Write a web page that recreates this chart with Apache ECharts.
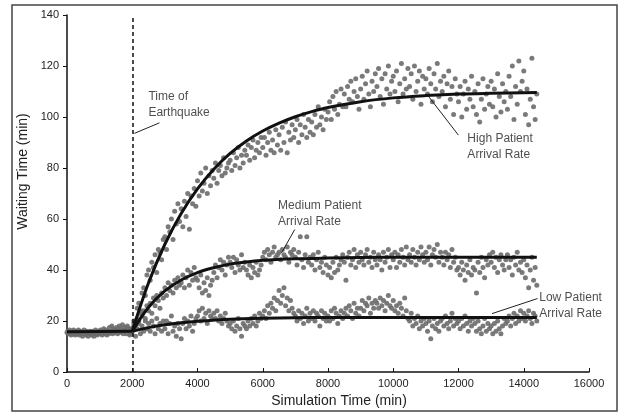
<!DOCTYPE html>
<html>
<head>
<meta charset="utf-8">
<script src="https://cdn.jsdelivr.net/npm/echarts@6/dist/echarts.min.js"></script>
<style>
  html, body { margin: 0; padding: 0; background: #fff; }
  #main { width: 625px; height: 414px; }
</style>
</head>
<body>
<div id="main"></div>
<script>
// x grid of the scatter samples (min)
const baseStart = 0, baseStep = 25;
const runStart = 2000, runStep = 50;

// waiting time before the earthquake (all three runs overlap here)
const baseline = [
  15.5, 16, 15, 16.5, 15, 14.5, 16, 15.5, 16.5, 15, 14.5, 16, 15.5, 15, 16.5, 14.5, 15.5, 16, 15, 14,
  15.5, 16.5, 15, 14.5, 16, 15.5, 14, 15, 16, 15.5, 14.5, 16, 15, 14, 15.5, 16.5, 15, 14.5, 15.5, 16,
  15, 16.5, 15.5, 14.5, 16, 17, 15, 15.5, 16.5, 14.5, 16, 15, 17.5, 15.5, 16, 18, 15, 16.5, 17, 15.5,
  16, 17.5, 15, 16.5, 18, 15.5, 17, 16, 18.5, 15, 16.5, 17.5, 16, 15, 18, 17, 16, 14.5, 17, 15
];

// after the earthquake, x = 2000, 2050, ... 14400
const high = [
  17, 20, 18, 25, 27, 24, 31, 33, 30, 38,
  40, 36, 43, 41, 46, 39, 48, 47, 44, 52,
  53, 48, 57, 55, 60, 52, 63, 58, 66, 59,
  64, 57, 67, 61, 70, 56, 69, 66, 72, 65,
  75, 69, 78, 71, 74, 80, 70, 77, 73, 79,
  76, 82, 74, 79, 81, 77, 84, 78, 80, 82,
  83, 79, 86, 81, 84, 88, 80, 85, 82, 87,
  85, 89, 83, 88, 91, 84, 87, 90, 86, 92,
  88, 92, 85, 90, 94, 87, 91, 86, 95, 89,
  93, 87, 96, 90, 98, 86, 94, 91, 97, 92,
  95, 99, 90, 97, 93, 101, 96, 92, 99, 94,
  98, 93, 101, 96, 104, 97, 100, 95, 103, 99,
  102, 106, 99, 108, 103, 110, 101, 105, 111, 104,
  109, 104, 112, 107, 114, 106, 110, 115, 108, 103,
  111, 116, 107, 113, 118, 109, 104, 114, 110, 117,
  112, 119, 108, 115, 105, 117, 111, 120, 109, 114,
  116, 110, 118, 106, 113, 121, 109, 115, 111, 119,
  112, 117, 107, 120, 110, 114, 118, 105, 116, 111,
  115, 109, 119, 113, 106, 117, 111, 121, 108, 114,
  110, 116, 104, 113, 118, 107, 112, 101, 115, 109,
  106, 112, 100, 109, 114, 103, 111, 107, 116, 104,
  110, 101, 113, 98, 107, 115, 103, 109, 112, 105,
  114, 104, 111, 100, 117, 108, 102, 113, 106, 110,
  103, 116, 108, 120, 99, 112, 105, 122, 110, 114,
  118, 101, 111, 97, 107, 123, 104, 99, 109
];

const medium = [
  17, 19, 18, 21, 20, 23, 22, 24, 21, 26,
  24, 27, 23, 29, 26, 30, 28, 25, 31, 29,
  33, 30, 35, 32, 34, 31, 36, 33, 37, 34,
  35, 38, 33, 37, 40, 34, 39, 36, 41, 37,
  36, 33, 38, 31, 35, 32, 37, 30, 34, 36,
  39, 42, 37, 41, 44, 40, 43, 38, 42, 45,
  43, 41, 45, 39, 44, 42, 40, 46, 41, 43,
  40, 38, 42, 37, 41, 39, 43, 38, 40, 42,
  45, 47, 44, 48, 46, 43, 47, 49, 45, 46,
  47, 44, 48, 46, 45, 49, 43, 47, 46, 48,
  45, 42, 47, 53, 44, 41, 46, 53, 43, 45,
  42, 46, 40, 44, 47, 41, 43, 39, 45, 42,
  38, 41, 37, 43, 39, 45, 40, 42, 44, 46,
  43, 36, 45, 47, 42, 44, 48, 41, 46, 43,
  47, 44, 42, 46, 48, 43, 45, 41, 47, 44,
  42, 46, 44, 40, 47, 43, 45, 48, 41, 46,
  44, 47, 41, 46, 43, 48, 45, 42, 49, 44,
  46, 43, 48, 45, 42, 47, 44, 49, 46, 43,
  47, 44, 49, 42, 46, 48, 45, 50, 43, 47,
  45, 42, 47, 44, 46, 41, 48, 43, 45, 40,
  41, 38, 43, 40, 36, 42, 39, 44, 38, 41,
  40, 31, 43, 39, 45, 41, 37, 44, 42, 46,
  43, 47, 41, 45, 39, 44, 46, 42, 40, 44,
  46, 41, 44, 38, 45, 42, 47, 40, 43, 39,
  44, 37, 42, 33, 40, 45, 36, 41, 34
];

const low = [
  16, 18, 14, 17, 19, 15, 18, 16, 20, 17,
  19, 16, 20, 18, 15, 21, 17, 19, 16, 20,
  17, 20, 15, 19, 22, 16, 18, 14, 19, 17,
  13, 19, 21, 17, 20, 18, 22, 16, 19, 21,
  22, 24, 20, 25, 21, 23, 19, 24, 22, 21,
  23, 21, 24, 20, 22, 19, 21, 23, 20, 18,
  19, 17, 20, 16, 18, 21, 17, 14, 19, 18,
  17, 20, 18, 21, 19, 22, 18, 20, 23, 21,
  22, 24, 21, 26, 23, 27, 25, 29, 24, 28,
  32, 27, 30, 33, 26, 29, 24, 28, 25, 23,
  22, 20, 24, 21, 23, 19, 22, 25, 20, 23,
  21, 24, 20, 23, 22, 18, 24, 21, 23, 20,
  22, 20, 24, 21, 25, 23, 19, 22, 24, 21,
  23, 25, 22, 26, 24, 21, 27, 23, 25, 22,
  25, 28, 24, 27, 26, 29, 23, 27, 25, 28,
  27, 25, 29, 26, 28, 24, 27, 30, 26, 25,
  28, 24, 26, 23, 27, 25, 22, 29, 24, 21,
  20, 23, 18, 21, 19, 22, 17, 20, 18, 21,
  19, 16, 20, 13, 18, 21, 17, 19, 16, 20,
  21, 18, 22, 19, 17, 20, 23, 18, 21, 19,
  20, 17, 21, 18, 22, 19, 16, 20, 18, 21,
  19, 16, 20, 17, 15, 18, 21, 16, 19, 17,
  18, 15, 19, 16, 20, 17, 15, 18, 21, 19,
  20, 22, 18, 21, 23, 19, 22, 20, 24, 21,
  23, 20, 22, 24, 21, 19, 23, 22, 20
];

// fitted curves
const baseCurve = [[0, 15.8], [2000, 16]];
const highCurve = [
  [2000, 16], [2500, 35], [3000, 50.1], [3500, 62.2], [4000, 71.8], [4500, 79.5],
  [5000, 85.7], [5500, 90.6], [6000, 94.5], [6500, 97.6], [7000, 100.1], [7500, 102.1],
  [8000, 103.7], [9000, 106], [10000, 107.5], [11000, 108.4], [12000, 109], [13000, 109.3], [14400, 109.6]
];
const mediumCurve = [
  [2000, 16], [2500, 25.4], [3000, 31.8], [3500, 36.1], [4000, 39], [4500, 40.9],
  [5000, 42.3], [5500, 43.1], [6000, 43.8], [7000, 44.4], [8000, 44.7], [9000, 44.9],
  [10000, 45], [14400, 45]
];
const lowCurve = [
  [2000, 16], [2500, 17.4], [3000, 18.5], [3500, 19.3], [4000, 19.9], [5000, 20.7],
  [6000, 21.1], [7000, 21.3], [8000, 21.4], [14400, 21.4]
];

const quakeTime = 2000;

// annotation text and leader lines (data coords)
const notes = [
  { text: 'Time of\nEarthquake', at: [2495, 104.7], from: [2067, 93.6], to: [2832, 97.7] },
  { text: 'High Patient\nArrival Rate', at: [12272, 88.4], from: [11049, 108.6], to: [11997, 92.9] },
  { text: 'Medium Patient\nArrival Rate', at: [6471, 62.1], from: [6575, 46.7], to: [6982, 55.9] },
  { text: 'Low Patient\nArrival Rate', at: [14474, 26.0], from: [13028, 22.9], to: [14422, 28.8] }
];

const FONT = '"Liberation Sans", Arial, sans-serif';
const dotColor = '#6b6b6b';

const toPts = (arr, x0, step) => arr.map((y, i) => [x0 + i * step, y]);

const scatter = (name, data) => ({
  name,
  type: 'scatter',
  data,
  symbolSize: 5,
  itemStyle: { color: dotColor, opacity: 0.9 },
  z: 2,
  silent: true
});

const curve = (name, data) => ({
  name,
  type: 'line',
  data,
  smooth: 0.35,
  showSymbol: false,
  lineStyle: { color: '#111', width: 3 },
  z: 5,
  silent: true
});

const chart = echarts.init(document.getElementById('main'), null, { renderer: 'canvas' });

const option = {
  backgroundColor: '#fff',
  animation: false,
  grid: { left: 67, right: 36, top: 15, bottom: 42 },
  graphic: [{
    type: 'rect',
    shape: { x: 12, y: 5, width: 605, height: 406 },
    style: { fill: 'none', stroke: '#444', lineWidth: 1.5 },
    silent: true
  }],
  xAxis: {
    type: 'value',
    min: 0, max: 16000, interval: 2000,
    name: 'Simulation Time (min)',
    nameLocation: 'middle',
    nameGap: 22,
    nameTextStyle: { fontFamily: FONT, fontSize: 14, color: '#222', padding: [0, 0, 0, 22] },
    axisLine: { lineStyle: { color: '#111', width: 1.5 } },
    axisTick: { inside: true, length: 4, lineStyle: { color: '#111' } },
    axisLabel: { fontFamily: FONT, fontSize: 11, color: '#222', margin: 6, formatter: v => String(v) },
    splitLine: { show: false }
  },
  yAxis: {
    type: 'value',
    min: 0, max: 140, interval: 20,
    name: 'Waiting Time (min)',
    nameLocation: 'middle',
    nameGap: 27,
    nameTextStyle: { fontFamily: FONT, fontSize: 14, color: '#222', padding: [0, 0, 0, 44] },
    axisLine: { show: true, lineStyle: { color: '#111', width: 1.5 } },
    axisTick: { show: true, length: 4, lineStyle: { color: '#111' } },
    axisLabel: { fontFamily: FONT, fontSize: 11, color: '#222', margin: 8 },
    splitLine: { show: false }
  },
  series: [
    scatter('base', toPts(baseline, baseStart, baseStep)),
    scatter('high', toPts(high, runStart, runStep)),
    scatter('medium', toPts(medium, runStart, runStep)),
    scatter('low', toPts(low, runStart, runStep)),
    curve('baseFit', baseCurve),
    curve('highFit', highCurve),
    curve('mediumFit', mediumCurve),
    curve('lowFit', lowCurve),
    {
      name: 'notes',
      type: 'scatter',
      symbolSize: 0,
      itemStyle: { color: 'transparent' },
      silent: true,
      z: 6,
      data: notes.map(n => ({ value: n.at, label: { formatter: n.text } })),
      label: {
        show: true, position: 'right', distance: 0,
        fontFamily: FONT, fontSize: 12, lineHeight: 16, color: '#222', align: 'left'
      },
      markLine: {
        silent: true,
        symbol: 'none',
        label: { show: false },
        lineStyle: { color: '#222', width: 1, type: 'solid' },
        data: [
          [{ coord: [quakeTime, 0], lineStyle: { type: [4, 3], width: 1.5, color: '#111' } }, { coord: [quakeTime, 140] }]
        ].concat(notes.map(n => [{ coord: n.from }, { coord: n.to }]))
      }
    }
  ]
};

chart.setOption(option);
window.addEventListener('resize', () => chart.resize());
</script>
</body>
</html>
